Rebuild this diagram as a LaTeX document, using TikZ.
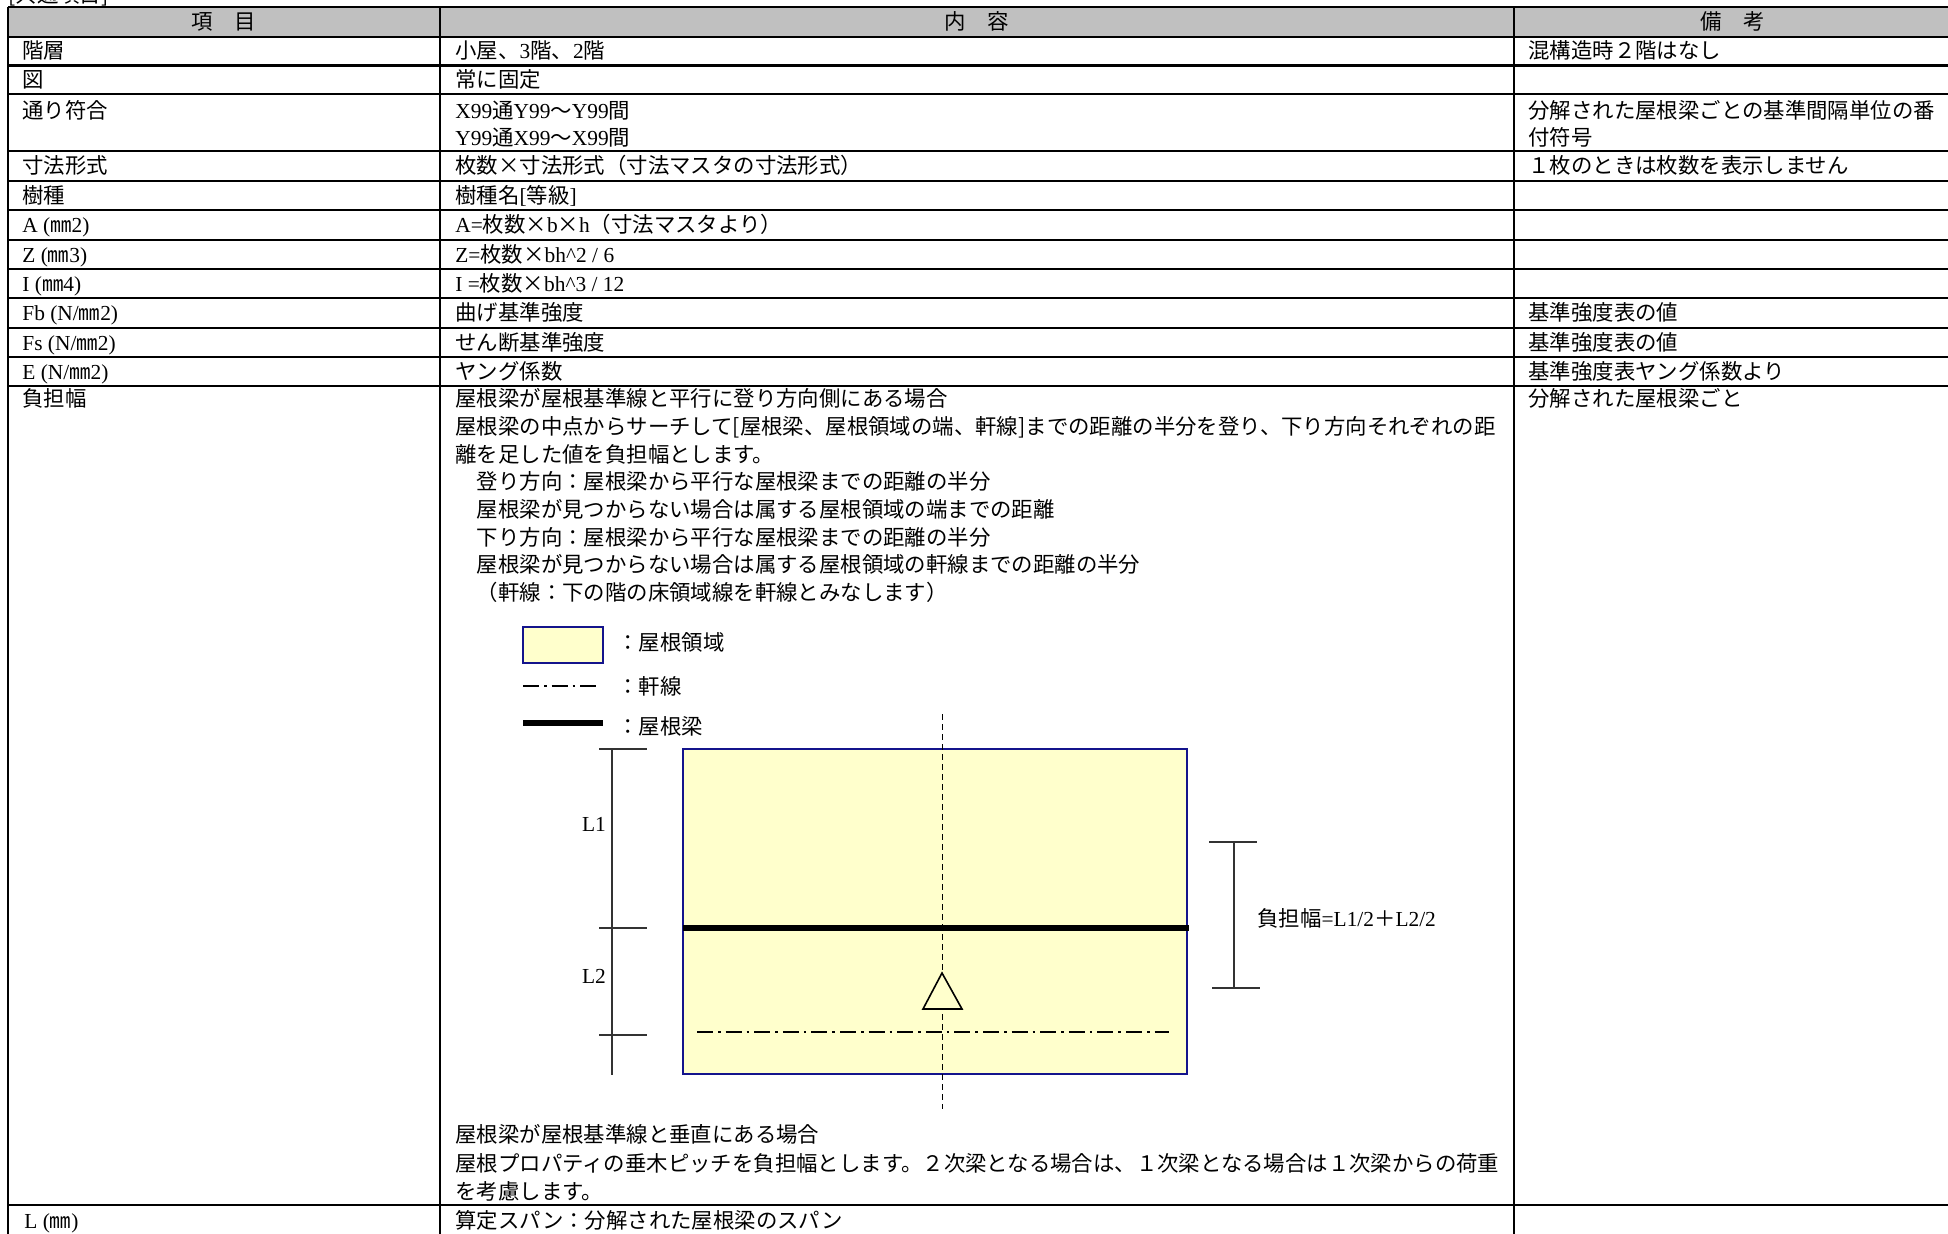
\documentclass[tikz,border=0pt]{standalone}
\usepackage{fontspec}
\setmainfont{Noto Sans CJK JP}
\newfontfamily\lat{Liberation Serif}
\usepackage{tikz}

\definecolor{roofyellow}{RGB}{255,255,204}
\definecolor{roofblue}{RGB}{20,20,140}
\definecolor{headgray}{RGB}{192,192,192}

\begin{document}
\begin{tikzpicture}[x=0.5pt,y=0.5pt,yscale=-1,xscale=1,
  cell/.style={anchor=west,inner sep=0pt,text height=10pt,text depth=2pt,font=\fontsize{10.7}{13.9}\selectfont},
  head/.style={cell,anchor=center},
  rule/.style={line width=1.1pt},
  eave/.style={line width=0.9pt,dash pattern=on 8pt off 2.5pt on 1.3pt off 2.5pt},
  beam/.style={line width=2.6pt},
  axis/.style={line width=0.5pt,dash pattern=on 3pt off 2pt},
  dim/.style={line width=0.7pt,black!80}]
\useasboundingbox (0,0) rectangle (1948,1234);
%Table frame
\fill[headgray] (8,7) rectangle (1952,37);
\foreach \y in {7,37,65.5,94,151,181,210,240,269,298,328,357,386,1205,1236}
  \draw[rule] (8,\y) -- (1952,\y);
\foreach \x in {8,440,1514}
  \draw[rule] (\x,7) -- (\x,1236);
\node[cell] (title) at (8,-5) {[共通項目]};
%Header
\node[head] (h1) at (224,22) {項　目};
\node[head] (h2) at (977,22) {内　容};
\node[head] (h3) at (1733,22) {備　考};
%Items
\node[cell] (k1) at (22,51) {階層};
\node[cell] (k2) at (22,80) {図};
\node[cell] (k3) at (22,110.5) {通り符合};
\node[cell] (k4) at (22,166) {寸法形式};
\node[cell] (k5) at (22,195.5) {樹種};
\node[cell] (k6) at (22,225) {{\lat A (}㎜{\lat 2)}};
\node[cell] (k7) at (22,254.5) {{\lat Z (}㎜{\lat 3)}};
\node[cell] (k8) at (22,283.5) {{\lat I (}㎜{\lat 4)}};
\node[cell] (k9) at (22,313) {{\lat Fb (N/}㎜{\lat 2)}};
\node[cell] (k10) at (22,342.5) {{\lat Fs (N/}㎜{\lat 2)}};
\node[cell] (k11) at (22,371.5) {{\lat E (N/}㎜{\lat 2)}};
\node[cell] (k12) at (22,399) {負担幅};
\node[cell] (k13) at (24,1220) {{\lat L (}㎜{\lat )}};
%Contents
\node[cell] (n1) at (455,51) {小屋、{\lat 3}階、{\lat 2}階};
\node[cell] (n2) at (455,80) {常に固定};
\node[cell] (n3a) at (455,110.5) {{\lat X99}通{\lat Y99}～{\lat Y99}間};
\node[cell] (n3b) at (455,138) {{\lat Y99}通{\lat X99}～{\lat X99}間};
\node[cell] (n4) at (455,166) {枚数×寸法形式（寸法マスタの寸法形式）};
\node[cell] (n5) at (455,195.5) {樹種名{\lat [}等級{\lat ]}};
\node[cell] (n6) at (455,225) {{\lat A=}枚数×{\lat b}×{\lat h}（寸法マスタより）};
\node[cell] (n7) at (455,254.5) {{\lat Z=}枚数×{\lat bh\textasciicircum 2 / 6}};
\node[cell] (n8) at (455,283.5) {{\lat I =}枚数×{\lat bh\textasciicircum 3 / 12}};
\node[cell] (n9) at (455,313) {曲げ基準強度};
\node[cell] (n10) at (455,342.5) {せん断基準強度};
\node[cell] (n11) at (455,371.5) {ヤング係数};
\node[cell] (n12a) at (455,399) {屋根梁が屋根基準線と平行に登り方向側にある場合};
\node[cell] (n12b) at (455,427) {屋根梁の中点からサーチして[屋根梁、屋根領域の端、軒線]までの距離の半分を登り、下り方向それぞれの距};
\node[cell] (n12c) at (455,455) {離を足した値を負担幅とします。};
\node[cell] (n12d) at (455,482) {　登り方向：屋根梁から平行な屋根梁までの距離の半分};
\node[cell] (n12e) at (455,510) {　屋根梁が見つからない場合は属する屋根領域の端までの距離};
\node[cell] (n12f) at (455,538) {　下り方向：屋根梁から平行な屋根梁までの距離の半分};
\node[cell] (n12g) at (455,565) {　屋根梁が見つからない場合は属する屋根領域の軒線までの距離の半分};
\node[cell] (n12h) at (455,593) {　（軒線：下の階の床領域線を軒線とみなします）};
\node[cell] (n13a) at (455,1134) {屋根梁が屋根基準線と垂直にある場合};
\node[cell] (n13b) at (455,1163) {屋根プロパティの垂木ピッチを負担幅とします。２次梁となる場合は、１次梁となる場合は１次梁からの荷重};
\node[cell] (n13c) at (455,1191) {を考慮します。};
\node[cell] (n14) at (455,1220) {算定スパン：分解された屋根梁のスパン};
%Remarks
\node[cell] (b1) at (1528,51) {混構造時２階はなし};
\node[cell] (b3a) at (1528,110.5) {分解された屋根梁ごとの基準間隔単位の番};
\node[cell] (b3b) at (1528,138) {付符号};
\node[cell] (b4) at (1528,166) {１枚のときは枚数を表示しません};
\node[cell] (b9) at (1528,313) {基準強度表の値};
\node[cell] (b10) at (1528,342.5) {基準強度表の値};
\node[cell] (b11) at (1528,371.5) {基準強度表ヤング係数より};
\node[cell] (b12) at (1528,399) {分解された屋根梁ごと};
%Legend
\draw[draw=roofblue,fill=roofyellow,line width=0.6pt] (523,627) rectangle (603,663);
\node[cell] (legarea) at (617,643) {：屋根領域};
\draw[eave] (523,686) -- (601,686);
\node[cell] (legeave) at (617,687) {：軒線};
\draw[beam] (523,723) -- (603,723);
\node[cell] (legbeam) at (617,726) {：屋根梁};
%Roof area
\draw[draw=roofblue,fill=roofyellow,line width=0.6pt] (683,749) rectangle (1187,1074);
\draw[axis] (942,714) -- (942,1109);
\draw[beam] (683,928) -- (1189,928);
\draw[eave] (697,1032) -- (1169,1032);
\draw[fill=roofyellow,line width=0.8pt] (942,973) -- (923,1009) -- (962,1009) -- cycle;
%Dimensions
\coordinate (dt) at (612,749);
\coordinate (dm) at (612,928);
\coordinate (de) at (612,1035);
\coordinate (db) at (612,1075);
\draw[dim] (dt) -- (db);
\foreach \c in {dt,dm,de}
  \draw[dim] ([xshift=-6.5pt]\c) -- ([xshift=17.5pt]\c);
\node[cell,anchor=center,font=\fontsize{10.7}{13.9}\selectfont\lat] (l1) at (594,823) {L1};
\node[cell,anchor=center,font=\fontsize{10.7}{13.9}\selectfont\lat] (l2) at (594,975) {L2};
\coordinate (wt) at (1234,842);
\coordinate (wb) at (1234,988);
\draw[dim] (wt) -- (wb);
\draw[dim] ([xshift=-12.5pt]wt) -- ([xshift=11.5pt]wt);
\draw[dim] ([xshift=-11pt]wb) -- ([xshift=13pt]wb);
\node[cell] (width) at (1257,918) {負担幅{\lat =L1/2}＋{\lat L2/2}};
\end{tikzpicture}
\end{document}
